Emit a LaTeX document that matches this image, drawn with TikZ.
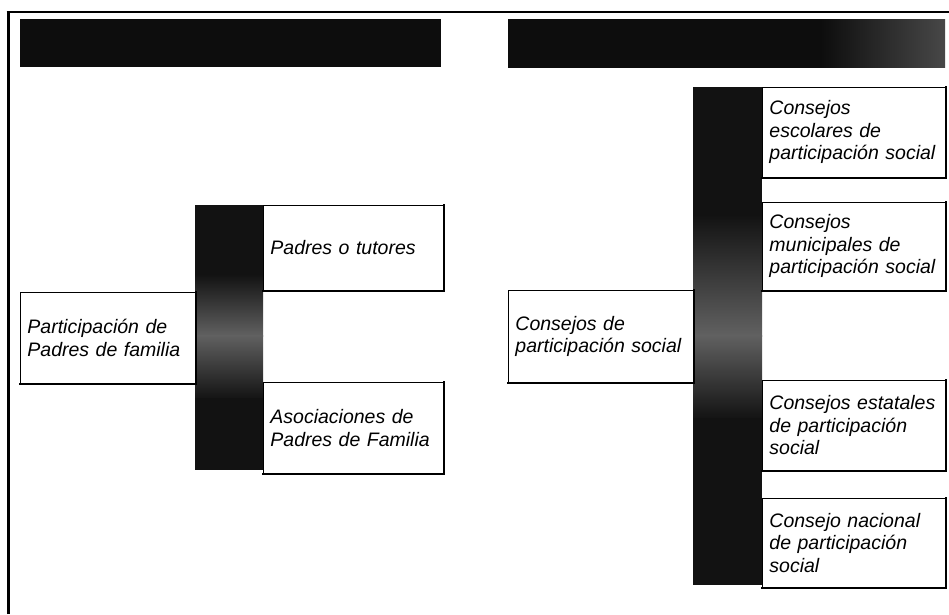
\documentclass[tikz,border=0pt]{standalone}
\usepackage{fontspec}
\setmainfont{Liberation Sans}
\begin{document}
\begin{tikzpicture}[x=1pt,y=-1pt,
  bx/.style n args={3}{draw, fill=white, line width=0.9pt, rectangle, anchor=north west,
    minimum width=#1, minimum height=#2, text width=#3, inner xsep=7pt, inner ysep=0pt,
    align=left, font=\fontsize{19.5}{22.5}\selectfont\itshape},
  shadowedge/.style={line width=2.2pt, line cap=rect},
  dark/.style={fill=black!93},
  todark/.style={top color=black!62, bottom color=black!93},
  fromdark/.style={top color=black!93, bottom color=black!62}
]
\useasboundingbox (0,0) rectangle (949,614);
% frame
\draw[line width=3pt] (8,614) -- (8,12);
\draw[line width=2pt] (6.5,12) -- (949,12);
% title bars
\fill[fill=black!95] (20,19) rectangle (441,67);
\begin{scope}
  \clip (508,19) rectangle (945,67);
  \fill[fill=black!95] (500,10) rectangle (840,75);
  \shade[left color=black!95, right color=black!72] (820,10) rectangle (945,75);
\end{scope}
% left column
\fill[dark] (195,205) rectangle (263,280);
\shade[fromdark] (195,274) rectangle (263,336);
\shade[todark] (195,335) rectangle (263,400);
\fill[dark] (195,398) rectangle (263,470);
% right column
\fill[dark] (693,87) rectangle (762,220);
\shade[fromdark] (693,214) rectangle (762,336);
\shade[todark] (693,335) rectangle (762,420);
\fill[dark] (693,418) rectangle (762,585);
% left group
\node[bx={175pt}{91pt}{161pt}] (L1) at (20,292) {Participación de\\Padres de familia};
\node[bx={180pt}{85pt}{166pt}] (L2) at (263,205) {Padres o tutores};
\node[bx={180pt}{91pt}{166pt}] (L3) at (263,382) {Asociaciones de\\Padres de Familia};
% right group
\node[bx={185pt}{92pt}{171pt}] (R0) at (508,290) {Consejos de\\participación social};
\node[bx={183pt}{90pt}{169pt}] (R1) at (762,87) {Consejos\\escolares de\\participación social};
\node[bx={183pt}{88pt}{169pt}] (R2) at (762,202) {Consejos\\municipales de\\participación social};
\node[bx={183pt}{90pt}{169pt}] (R3) at (762,380) {Consejos estatales\\de participación\\social};
\node[bx={183pt}{89pt}{169pt}] (R4) at (762,498) {Consejo nacional\\de participación\\social};
\foreach \n in {L1,L2,L3,R0,R1,R2,R3,R4}
  \draw[shadowedge] (\n.north east) -- (\n.south east) -- (\n.south west);
\end{tikzpicture}
\end{document}
